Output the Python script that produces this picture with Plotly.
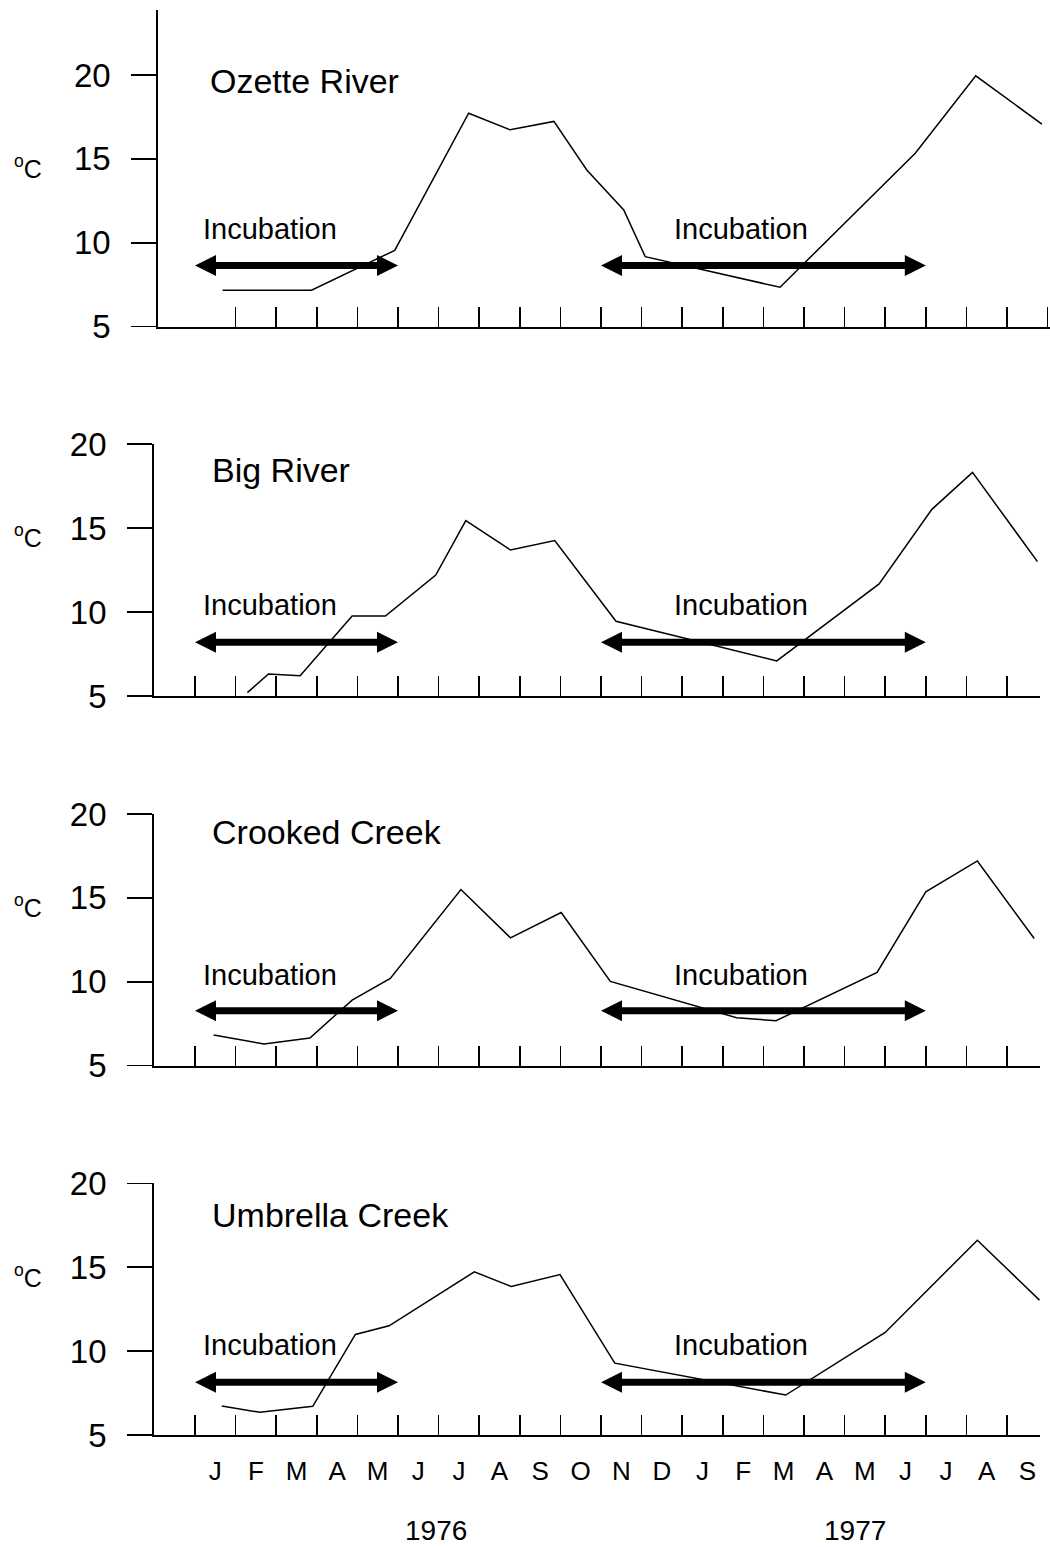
import plotly.graph_objects as go

# ---------------- data ----------------
MONTHS = ["J", "F", "M", "A", "M", "J", "J", "A", "S", "O", "N", "D",
          "J", "F", "M", "A", "M", "J", "J", "A", "S"]
YEARS = ["1976", "1977"]
RIVERS = ["Ozette River", "Big River", "Crooked Creek", "Umbrella Creek"]

# x = month index (0 = January 1976, 12 = January 1977), y = water temperature (deg C)
ozette_x = [0.18, 2.37, 4.42, 6.24, 7.26, 8.34, 9.15, 10.06, 10.59, 13.91, 17.24, 18.73, 20.36]
ozette_y = [7.17, 7.17, 9.55, 17.72, 16.73, 17.23, 14.34, 11.96, 9.17, 7.35, 15.34, 19.95, 17.07]

big_x = [0.79, 1.31, 2.09, 3.37, 4.19, 5.43, 6.17, 7.27, 8.36, 9.87, 13.83, 16.35, 17.65, 18.65, 20.25]
big_y = [5.2, 6.31, 6.21, 9.76, 9.76, 12.2, 15.44, 13.69, 14.25, 9.45, 7.09, 11.67, 16.11, 18.31, 13.0]

crooked_x = [-0.04, 1.20, 2.33, 3.37, 4.31, 6.05, 7.27, 8.52, 9.73, 12.84, 13.81, 16.30, 17.50, 18.77, 20.17]
crooked_y = [6.83, 6.29, 6.65, 8.91, 10.2, 15.5, 12.62, 14.13, 10.02, 7.86, 7.68, 10.56, 15.36, 17.2, 12.58]

umbrella_x = [0.16, 1.10, 2.40, 3.45, 4.28, 6.38, 7.29, 8.49, 9.84, 14.05, 16.50, 18.77, 20.30]
umbrella_y = [6.73, 6.35, 6.71, 10.99, 11.51, 14.72, 13.85, 14.56, 9.28, 7.38, 11.11, 16.61, 13.04]

SERIES_X = [ozette_x, big_x, crooked_x, umbrella_x]
SERIES_Y = [ozette_y, big_y, crooked_y, umbrella_y]

# incubation periods (month index, start/end) and arrow level (deg C) per panel
INCUBATION = [(-0.5, 4.5), (9.5, 17.5)]
INCUBATION_LEVEL = [8.64, 8.2, 8.28, 8.14]
INCUBATION_LABEL = "Incubation"

Y_TICKS = [5, 10, 15, 20]

# ---------------- layout geometry (pixels of a 1050 x 1547 page) ----------------
W, H = 1050, 1547
PX_PER_MONTH = 40.6
MONTH0_PX = 215.3

# (axis left px, axis right px, axis top px, axis bottom px, y max)
PANELS = [
    (157.7, 1050.0, 10.0, 326.7, 23.87),
    (153.6, 1040.0, 444.0, 696.0, 20.0),
    (153.6, 1040.0, 814.0, 1065.7, 20.0),
    (153.6, 1040.0, 1183.3, 1435.0, 20.0),
]
TITLE_POS = [(-0.18, 19.65), (-0.12, 18.45), (-0.12, 18.9), (-0.12, 18.1)]
INC_LABEL_X = [1.35, 12.95]
INC_LABEL_Y = [10.82, 10.42, 10.4, 10.36]

FONT = "Liberation Sans, Arial, Helvetica, sans-serif"
BLACK = "#000000"


def m_of(px):
    return (px - MONTH0_PX) / PX_PER_MONTH


fig = go.Figure()
layout = dict(
    width=W, height=H,
    margin=dict(l=0, r=0, t=0, b=0, pad=0, autoexpand=False),
    paper_bgcolor="white", plot_bgcolor="white",
    showlegend=False,
    font=dict(family=FONT, color=BLACK),
)
annotations = []

for i in range(4):
    left, right, top, bottom, ymax = PANELS[i]
    n = "" if i == 0 else str(i + 1)
    xa, ya = "x" + n, "y" + n
    xr = [m_of(left), m_of(right)]
    if i == 0:
        xticks = [k + 0.5 for k in range(0, 21)]
    else:
        xticks = [k - 0.5 for k in range(0, 21)]

    layout["xaxis" + n] = dict(
        domain=[left / W, right / W], range=xr, anchor=ya,
        showline=True, linecolor=BLACK, linewidth=2,
        ticks="inside", ticklen=20, tickwidth=1.5, tickcolor=BLACK,
        tickvals=xticks, showticklabels=False,
        showgrid=False, zeroline=False, fixedrange=True, automargin=False,
    )
    layout["yaxis" + n] = dict(
        domain=[1 - bottom / H, 1 - top / H], range=[5, ymax], anchor=xa,
        showline=True, linecolor=BLACK, linewidth=1.5,
        ticks="outside", ticklen=25, tickwidth=1.5, tickcolor=BLACK,
        tickvals=Y_TICKS, ticktext=[str(v) for v in Y_TICKS],
        tickfont=dict(size=33, family=FONT, color=BLACK),
        ticklabelstandoff=14,
        showgrid=False, zeroline=False, fixedrange=True, automargin=False,
    )

    # temperature line
    fig.add_trace(go.Scatter(
        x=SERIES_X[i], y=SERIES_Y[i], mode="lines",
        line=dict(color=BLACK, width=1.5),
        xaxis=xa, yaxis=ya, hoverinfo="skip",
    ))

    # incubation arrows
    lvl = INCUBATION_LEVEL[i]
    for (a, b) in INCUBATION:
        inset = 0.3
        fig.add_trace(go.Scatter(
            x=[a + inset, b - inset], y=[lvl, lvl], mode="lines",
            line=dict(color=BLACK, width=7),
            xaxis=xa, yaxis=ya, hoverinfo="skip",
        ))
        fig.add_trace(go.Scatter(
            x=[a, b], y=[lvl, lvl], mode="markers",
            marker=dict(symbol=["arrow-left", "arrow-right"], size=21, color=BLACK,
                        line=dict(width=0)),
            xaxis=xa, yaxis=ya, hoverinfo="skip", cliponaxis=False,
        ))

    # river name
    annotations.append(dict(
        text=RIVERS[i], x=TITLE_POS[i][0], y=TITLE_POS[i][1], xref=xa, yref=ya,
        xanchor="left", yanchor="middle", showarrow=False,
        font=dict(size=34, family=FONT, color=BLACK),
    ))
    # Incubation labels
    for xl in INC_LABEL_X:
        annotations.append(dict(
            text=INCUBATION_LABEL, x=xl, y=INC_LABEL_Y[i], xref=xa, yref=ya,
            xanchor="center", yanchor="middle", showarrow=False,
            font=dict(size=29, family=FONT, color=BLACK),
        ))
    # degree C unit label
    annotations.append(dict(
        text="<sup>o</sup>C", x=28 / W, y=14.5, xref="paper", yref=ya,
        xanchor="center", yanchor="middle", showarrow=False,
        font=dict(size=25, family=FONT, color=BLACK),
    ))

# month labels on an overlaying axis of the bottom panel
layout["xaxis5"] = dict(
    overlaying="x4", anchor="y4", range=layout["xaxis4"]["range"],
    domain=layout["xaxis4"]["domain"],
    tickvals=list(range(len(MONTHS))), ticktext=MONTHS,
    ticks="", showline=False, showgrid=False, zeroline=False,
    tickfont=dict(size=26, family=FONT, color=BLACK),
    ticklabelstandoff=18, side="bottom", fixedrange=True, automargin=False,
)
fig.add_trace(go.Scatter(x=[0], y=[5], mode="markers", marker=dict(opacity=0),
                         xaxis="x5", yaxis="y4", hoverinfo="skip"))

# year labels
for yr, xm in zip(YEARS, [5.43, 15.75]):
    annotations.append(dict(
        text=yr, x=xm, y=1 - 1530 / H, xref="x4", yref="paper",
        xanchor="center", yanchor="middle", showarrow=False,
        font=dict(size=28, family=FONT, color=BLACK),
    ))

layout["annotations"] = annotations
fig.update_layout(**layout)
fig.write_html(
    "out.html",
    config={"displayModeBar": False, "staticPlot": True},
    post_script="document.body.style.margin='0';document.body.style.overflow='hidden';",
)
